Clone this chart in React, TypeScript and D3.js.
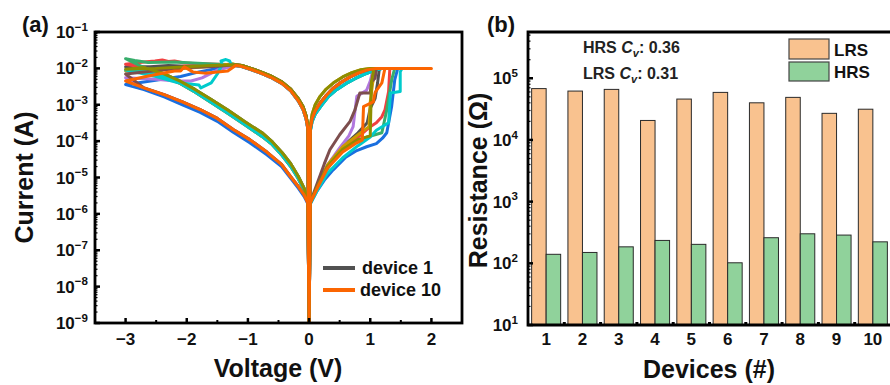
import React from 'react';
import * as d3 from 'd3';

const W = 890;
const H = 385;
const FONT = "'Liberation Sans', Arial, Helvetica, sans-serif";

// ---------- Panel (a): I–V sweeps, one loop per device ----------
// Each loop is stored branch by branch as [voltage (V), current (A)].

// SET sweeps 0 → Vmax (HRS branch, switching steps, compliance at 10 mA)
const setD1 = [[0,1e-9],[0.02,2e-6],[0.12,4.8e-6],[0.22,1.2e-5],[0.35,2.8e-5],[0.5,5.5e-5],[0.65,1e-4],[0.8,1.7e-4],[0.95,3.2e-4],[1.0,8e-4],[1.08,1.5e-3],[1.12,4e-3],[1.15,1e-2],[1.55,1e-2]];
const setD2 = [[0,1e-9],[0.02,2e-6],[0.12,4.5e-6],[0.25,1.4e-5],[0.4,3.2e-5],[0.6,7e-5],[0.8,1.3e-4],[1.0,2.5e-4],[1.1,3.2e-4],[1.19,4.7e-4],[1.24,7.2e-4],[1.3,2.3e-3],[1.32,1e-2],[1.6,1e-2]];
const setD3 = [[0,1e-9],[0.02,1.9e-6],[0.12,4e-6],[0.25,8.5e-6],[0.39,1.6e-5],[0.6,3.6e-5],[0.78,5.5e-5],[0.94,7e-5],[1.1,8.5e-5],[1.2,1.2e-4],[1.27,1.7e-4],[1.35,9e-4],[1.4,4.8e-3],[1.45,1e-2],[1.55,1e-2]];
const setD4 = [[0,1e-9],[0.02,2e-6],[0.12,4.6e-6],[0.25,1.3e-5],[0.45,4e-5],[0.7,8.5e-5],[0.95,1.3e-4],[1.19,1.7e-4],[1.27,7.2e-4],[1.35,4.8e-3],[1.4,1e-2],[1.6,1e-2]];
const setD5 = [[0,1e-9],[0.02,2e-6],[0.12,5e-6],[0.3,2.2e-5],[0.5,6.5e-5],[0.65,1.4e-4],[0.72,2.5e-4],[0.78,1.7e-3],[0.94,2.5e-3],[1.0,4.5e-3],[1.05,1e-2],[1.5,1e-2]];
const setD6 = [[0,1e-9],[0.02,2e-6],[0.12,5e-6],[0.3,2.2e-5],[0.55,7e-5],[0.8,1.5e-4],[0.98,2.5e-4],[1.0,1.2e-3],[1.04,4e-3],[1.1,1e-2],[1.55,1e-2]];
const setD7 = [[0,1e-9],[0.02,1.9e-6],[0.12,4e-6],[0.3,1.3e-5],[0.55,3.5e-5],[0.8,7.5e-5],[1.0,1.3e-4],[1.1,2e-4],[1.3,3.2e-4],[1.33,2.1e-3],[1.49,2.3e-3],[1.49,8e-3],[1.52,1e-2],[1.62,1e-2]];
const setD8 = [[0,1e-9],[0.02,2.1e-6],[0.12,6e-6],[0.25,2.4e-5],[0.34,5.8e-5],[0.5,1.5e-4],[0.67,3.5e-4],[0.75,7.2e-4],[0.83,2.1e-3],[1.0,2.1e-3],[1.02,4.3e-3],[1.08,5.4e-3],[1.1,1e-2],[1.5,1e-2]];
const setD9 = [[0,1e-9],[0.02,2e-6],[0.12,5e-6],[0.3,2e-5],[0.55,6e-5],[0.8,1.1e-4],[1.0,1.4e-4],[1.02,4.3e-3],[1.06,1e-2],[1.55,1e-2]];
const setD10 = [[0,1e-9],[0.02,2e-6],[0.12,4.6e-6],[0.3,1.8e-5],[0.55,5e-5],[0.78,9e-5],[0.87,1.07e-4],[0.89,8.9e-4],[1.05,1.2e-3],[1.08,2.2e-3],[1.19,4e-3],[1.24,1e-2],[2.0,1e-2]];

// LRS return Vmax → 0
const lrsPosA = [[1.0,1e-2],[0.85,9.2e-3],[0.7,7.6e-3],[0.55,5.8e-3],[0.4,4e-3],[0.28,2.7e-3],[0.18,1.7e-3],[0.1,1e-3],[0.05,5.5e-4],[0.02,2.6e-4],[0,1e-9]];
const lrsPosB = [[1.1,1e-2],[0.94,9e-3],[0.8,7.4e-3],[0.67,5.8e-3],[0.52,4.1e-3],[0.39,2.8e-3],[0.28,1.8e-3],[0.18,1.1e-3],[0.1,6.8e-4],[0.05,4.2e-4],[0.02,2.2e-4],[0,1e-9]];
const lrsPosC = [[1.2,1e-2],[1.05,8.6e-3],[0.9,6.8e-3],[0.75,5.2e-3],[0.6,3.8e-3],[0.45,2.6e-3],[0.32,1.7e-3],[0.2,9.5e-4],[0.1,5.5e-4],[0.05,3.5e-4],[0.02,1.9e-4],[0,1e-9]];

// LRS on the negative sweep 0 → −1.2 V
const lrsNegA = [[0,1e-9],[-0.02,2.6e-4],[-0.05,5e-4],[-0.1,9e-4],[-0.18,1.5e-3],[-0.3,2.7e-3],[-0.44,4.2e-3],[-0.6,5.9e-3],[-0.77,7.8e-3],[-0.95,1e-2],[-1.1,1.2e-2],[-1.2,1.25e-2]];
const lrsNegB = [[0,1e-9],[-0.02,2.2e-4],[-0.05,4.2e-4],[-0.1,7.5e-4],[-0.18,1.3e-3],[-0.3,2.4e-3],[-0.44,3.8e-3],[-0.6,5.4e-3],[-0.77,7.2e-3],[-0.95,9.3e-3],[-1.1,1.12e-2],[-1.2,1.2e-2]];

// RESET region −1.2 → −3 V
const resetD1 = [[-1.4,1.25e-2],[-1.7,1.2e-2],[-2.0,1.15e-2],[-2.3,1.2e-2],[-2.6,1.1e-2],[-3,1.1e-2]];
const resetD2 = [[-1.5,1.3e-2],[-1.8,1.35e-2],[-2.04,1.4e-2],[-2.2,1.6e-2],[-2.3,1.55e-2],[-2.4,1.7e-2],[-2.52,1.6e-2],[-2.7,1.5e-2],[-3,1.3e-2]];
const resetD3 = [[-1.5,1e-2],[-1.8,8e-3],[-2.1,6e-3],[-2.4,5e-3],[-2.7,4.2e-3],[-3,3.6e-3]];
const resetD4 = [[-1.5,1.3e-2],[-1.9,1.4e-2],[-2.2,1.5e-2],[-2.63,1.45e-2],[-2.85,1.65e-2],[-3,1.85e-2]];
const resetD5 = [[-1.5,9e-3],[-1.75,5.5e-3],[-1.93,4.5e-3],[-2.19,4.5e-3],[-2.5,5e-3],[-3,5.5e-3]];
const resetD6 = [[-1.25,1.35e-2],[-1.6,1.15e-2],[-2.0,1e-2],[-2.5,9e-3],[-3,8.5e-3]];
const resetD7 = [[-1.28,1.35e-2],[-1.3,1.6e-2],[-1.36,1.75e-2],[-1.44,1.6e-2],[-1.42,1.3e-2],[-1.5,7e-3],[-1.6,4e-3],[-1.77,2.9e-3],[-1.8,3.5e-3],[-2.14,4e-3],[-2.5,6e-3],[-3,9e-3]];
const resetD8 = [[-1.6,1.1e-2],[-2.0,1.05e-2],[-2.4,9e-3],[-3,7e-3]];
const resetD9 = [[-1.6,1.2e-2],[-2.0,1.1e-2],[-2.5,1.0e-2],[-3,9.5e-3]];
const resetD10 = [[-1.33,8.5e-3],[-1.71,7.4e-3],[-1.9,8e-3],[-2.04,1.1e-2],[-2.1,8.5e-3],[-2.2,8.5e-3],[-2.63,6.2e-3],[-3,4.5e-3]];

// HRS return −3 → 0 V (upper and lower families)
const hrsUpA = [[-2.7,1.05e-2],[-2.4,7.4e-3],[-2.1,4.4e-3],[-1.86,2.6e-3],[-1.6,1.4e-3],[-1.33,7.2e-4],[-1.05,3.4e-4],[-0.77,1.7e-4],[-0.6,9.5e-5],[-0.44,4.8e-5],[-0.3,2.4e-5],[-0.18,1.1e-5],[-0.08,5e-6],[-0.02,2.2e-6],[0,1e-9]];
const hrsUpB = [[-2.7,8.5e-3],[-2.4,6.2e-3],[-2.1,3.8e-3],[-1.86,2.2e-3],[-1.6,1.15e-3],[-1.33,5.8e-4],[-1.05,2.8e-4],[-0.77,1.35e-4],[-0.6,8e-5],[-0.44,4e-5],[-0.3,2e-5],[-0.18,9.5e-6],[-0.08,4.5e-6],[-0.02,2.1e-6],[0,1e-9]];
const hrsLowA = [[-2.7,2.9e-3],[-2.37,1.9e-3],[-2.07,1.2e-3],[-1.78,7.4e-4],[-1.5,4.2e-4],[-1.24,2.1e-4],[-0.97,1.1e-4],[-0.69,5e-5],[-0.45,2.3e-5],[-0.31,1.1e-5],[-0.18,5.8e-6],[-0.08,3.3e-6],[-0.02,2e-6],[0,1e-9]];
const hrsLowB = [[-2.7,2.6e-3],[-2.37,1.65e-3],[-2.07,1.0e-3],[-1.78,6.2e-4],[-1.5,3.5e-4],[-1.24,1.75e-4],[-0.97,9e-5],[-0.69,4.2e-5],[-0.45,2e-5],[-0.31,1e-5],[-0.18,5.2e-6],[-0.08,3e-6],[-0.02,1.9e-6],[0,1e-9]];

const deviceColors = ['#515151','#F14040','#1A6FDF','#37AD6B','#B177DE','#CC9900','#00CBCC','#7D4E4E','#8E8E00','#FB6501'];

const loops = [
  [setD1, lrsPosB, lrsNegB, resetD1, hrsUpB],
  [setD2, lrsPosB, lrsNegA, resetD2, hrsUpA],
  [setD3, lrsPosC, lrsNegB, resetD3, hrsLowB],
  [setD4, lrsPosC, lrsNegA, resetD4, hrsUpA],
  [setD5, lrsPosB, lrsNegB, resetD5, hrsLowA],
  [setD6, lrsPosA, lrsNegA, resetD6, hrsUpB],
  [setD7, lrsPosC, lrsNegB, resetD7, hrsUpB],
  [setD8, lrsPosB, lrsNegA, resetD8, hrsLowA],
  [setD9, lrsPosA, lrsNegA, resetD9, hrsUpA],
  [setD10, lrsPosB, lrsNegB, resetD10, hrsLowA],
];

const voltTicks = [-3, -2, -1, 0, 1, 2];
const currentExps = [-9, -8, -7, -6, -5, -4, -3, -2, -1];

// ---------- Panel (b): resistance per device ----------
const devices = ['1','2','3','4','5','6','7','8','9','10'];
const lrsOhm = [6.8e4, 6.2e4, 6.6e4, 2.07e4, 4.6e4, 5.9e4, 4.0e4, 4.9e4, 2.7e4, 3.15e4];
const hrsOhm = [140, 150, 185, 235, 203, 102, 260, 301, 287, 223];
const resExps = [1, 2, 3, 4, 5];

const LRS_FILL = '#F9C28F';
const HRS_FILL = '#90D29B';

function Pow10({ x, y, exp, size, anchor }: { x: number; y: number; exp: number; size: number; anchor: string }) {
  const e = exp < 0 ? `\u2212${-exp}` : `${exp}`;
  return (
    <text x={x} y={y} textAnchor={anchor} fontSize={size} fontWeight="bold" fontFamily={FONT} fill="#111">
      <tspan>10</tspan>
      <tspan fontSize={size * 0.68} dy={-size * 0.42}>{e}</tspan>
    </text>
  );
}

export default function App() {
  // panel (a)
  const ax = { l: 95, r: 462, t: 32, b: 323 };
  const xA = d3.scaleLinear().domain([-3.5, 2.5]).range([ax.l, ax.r]);
  const yA = d3.scaleLog().domain([1e-9, 1e-1]).range([ax.b, ax.t]);
  const line = d3.line<number[]>().x(d => xA(d[0])).y(d => yA(Math.max(d[1], 1e-9)));
  const minorV = d3.range(-3.5, 2.51, 0.5).filter(v => !Number.isInteger(v));
  const minorA: number[] = [];
  currentExps.slice(0, -1).forEach(e => { for (let k = 2; k <= 9; k++) minorA.push(k * Math.pow(10, e)); });

  // panel (b)
  const bx = { l: 528, r: 891, t: 32, b: 325 };
  const xB = d3.scaleBand().domain(devices).range([bx.l, bx.r]).paddingInner(0.2).paddingOuter(0.1);
  const yB = d3.scaleLog().domain([10, Math.pow(10, 5.75)]).range([bx.b, bx.t]);
  const bw = xB.bandwidth();
  const half = bw / 2;
  const step = xB.step();
  const minorB: number[] = [];
  resExps.forEach(e => { for (let k = 2; k <= 9; k++) { const v = k * Math.pow(10, e); if (v < Math.pow(10, 5.75)) minorB.push(v); } });

  return (
    <svg width={W} height={H} viewBox={`0 0 ${W} ${H}`} style={{ position: 'absolute', left: 0, top: 0, display: 'block', background: '#fff' }}>
      <defs>
        <clipPath id="clipA"><rect x={ax.l} y={ax.t} width={ax.r - ax.l} height={ax.b - ax.t} /></clipPath>
        <clipPath id="clipB"><rect x={bx.l} y={bx.t} width={W - bx.l} height={bx.b - bx.t} /></clipPath>
      </defs>
      <rect x={0} y={0} width={W} height={H} fill="#fff" />

      {/* ===== panel (a) ===== */}
      <g clipPath="url(#clipA)">
        {loops.map((branches, i) => (
          <path key={i} d={line(branches.flat() as number[][]) || ''} fill="none" stroke={deviceColors[i]}
            strokeWidth={3} strokeLinejoin="round" strokeLinecap="round" />
        ))}
      </g>
      {/* ticks */}
      {voltTicks.map(v => (
        <line key={`vt${v}`} x1={xA(v)} x2={xA(v)} y1={ax.b} y2={ax.b - 5} stroke="#000" strokeWidth={2.5} />
      ))}
      {minorV.map(v => (
        <line key={`vm${v}`} x1={xA(v)} x2={xA(v)} y1={ax.b} y2={ax.b - 3} stroke="#000" strokeWidth={2} />
      ))}
      {currentExps.map(e => (
        <line key={`it${e}`} x1={ax.l} x2={ax.l + 5} y1={yA(Math.pow(10, e))} y2={yA(Math.pow(10, e))} stroke="#000" strokeWidth={2.5} />
      ))}
      {minorA.map((v, i) => (
        <line key={`im${i}`} x1={ax.l} x2={ax.l + 2.5} y1={yA(v)} y2={yA(v)} stroke="#000" strokeWidth={1.2} />
      ))}
      <rect x={ax.l} y={ax.t} width={ax.r - ax.l} height={ax.b - ax.t} fill="none" stroke="#000" strokeWidth={2.8} />
      {voltTicks.map(v => (
        <text key={`vl${v}`} x={xA(v)} y={345} textAnchor="middle" fontSize={17} fontWeight="bold" fontFamily={FONT} fill="#111">
          {v < 0 ? `\u2212${-v}` : `${v}`}
        </text>
      ))}
      {currentExps.map(e => (
        <Pow10 key={`il${e}`} x={88} y={yA(Math.pow(10, e)) + 6} exp={e} size={17} anchor="end" />
      ))}
      <text x={278} y={377} textAnchor="middle" fontSize={25} fontWeight="bold" fontFamily={FONT} fill="#111">Voltage (V)</text>
      <text transform={`translate(33,${(ax.t + ax.b) / 2}) rotate(-90)`} textAnchor="middle" fontSize={25} fontWeight="bold" fontFamily={FONT} fill="#111">Current (A)</text>
      <text x={22} y={32} fontSize={22} fontWeight="bold" fontFamily={FONT} fill="#111">(a)</text>

      {/* legend (a) */}
      <line x1={323} x2={355} y1={268} y2={268} stroke={deviceColors[0]} strokeWidth={4} />
      <text x={362} y={274} fontSize={18} fontWeight="bold" fontFamily={FONT} fill="#111">device 1</text>
      <line x1={323} x2={355} y1={290} y2={290} stroke={deviceColors[9]} strokeWidth={4} />
      <text x={360} y={296} fontSize={18} fontWeight="bold" fontFamily={FONT} fill="#111">device 10</text>

      {/* ===== panel (b) ===== */}
      <g clipPath="url(#clipB)">
        {devices.map((d, i) => (
          <g key={`bar${d}`}>
            <rect x={(xB(d) as number)} y={yB(lrsOhm[i])} width={half} height={bx.b - yB(lrsOhm[i])}
              fill={LRS_FILL} stroke="#2a2a2a" strokeWidth={1} />
            <rect x={(xB(d) as number) + half} y={yB(hrsOhm[i])} width={half} height={bx.b - yB(hrsOhm[i])}
              fill={HRS_FILL} stroke="#2a2a2a" strokeWidth={1} />
          </g>
        ))}
      </g>
      {devices.slice(0, -1).map((d, i) => {
        const xb = (xB(d) as number) + bw + (step - bw) / 2;
        return <line key={`bt${i}`} x1={xb} x2={xb} y1={bx.b} y2={bx.b - 3} stroke="#000" strokeWidth={3} />;
      })}
      {resExps.map(e => (
        <line key={`rt${e}`} x1={bx.l} x2={bx.l + 5} y1={yB(Math.pow(10, e))} y2={yB(Math.pow(10, e))} stroke="#000" strokeWidth={2.5} />
      ))}
      {minorB.map((v, i) => (
        <line key={`rm${i}`} x1={bx.l} x2={bx.l + 2.5} y1={yB(v)} y2={yB(v)} stroke="#000" strokeWidth={1.2} />
      ))}
      <polyline points={`${W + 5},${bx.t} ${bx.l},${bx.t} ${bx.l},${bx.b} ${W + 5},${bx.b}`} fill="none" stroke="#000" strokeWidth={2.8} />
      {devices.map(d => (
        <text key={`dl${d}`} x={(xB(d) as number) + half} y={345} textAnchor="middle" fontSize={17} fontWeight="bold" fontFamily={FONT} fill="#111">{d}</text>
      ))}
      {resExps.map(e => (
        <Pow10 key={`rl${e}`} x={518} y={yB(Math.pow(10, e)) + 6} exp={e} size={17} anchor="end" />
      ))}
      <text x={709} y={378} textAnchor="middle" fontSize={25} fontWeight="bold" fontFamily={FONT} fill="#111">Devices (#)</text>
      <text transform={`translate(487,${(bx.t + bx.b) / 2 + 2}) rotate(-90)`} textAnchor="middle" fontSize={25} fontWeight="bold" fontFamily={FONT} fill="#111">Resistance (Ω)</text>
      <text x={487} y={32} fontSize={22} fontWeight="bold" fontFamily={FONT} fill="#111">(b)</text>

      {/* C_v annotations */}
      <text x={583} y={53} fontSize={16} fontWeight="bold" fontFamily={FONT} fill="#222">
        HRS <tspan fontStyle="italic">C</tspan><tspan fontStyle="italic" fontSize={11} dy={4}>v</tspan><tspan dy={-4}>: 0.36</tspan>
      </text>
      <text x={583} y={79} fontSize={16} fontWeight="bold" fontFamily={FONT} fill="#222">
        LRS <tspan fontStyle="italic">C</tspan><tspan fontStyle="italic" fontSize={11} dy={4}>v</tspan><tspan dy={-4}>: 0.31</tspan>
      </text>

      {/* legend (b) */}
      <rect x={789} y={39} width={40} height={20} fill={LRS_FILL} stroke="#444" strokeWidth={1.2} />
      <text x={834} y={56} fontSize={17} fontWeight="bold" fontFamily={FONT} fill="#111">LRS</text>
      <rect x={789} y={62} width={40} height={19} fill={HRS_FILL} stroke="#444" strokeWidth={1.2} />
      <text x={834} y={78} fontSize={17} fontWeight="bold" fontFamily={FONT} fill="#111">HRS</text>
    </svg>
  );
}
